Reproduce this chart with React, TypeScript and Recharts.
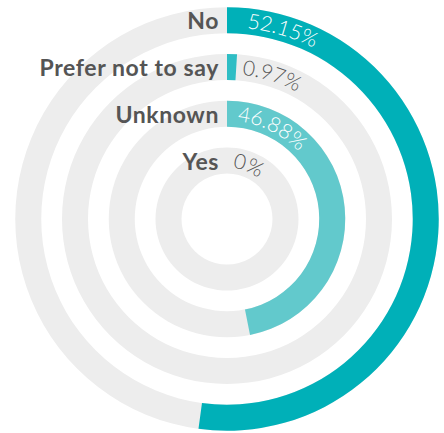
import React from "react"
import {
  Cell,
  LabelList,
  PolarAngleAxis,
  PolarRadiusAxis,
  RadialBar,
  RadialBarChart,
} from "recharts"

// inner ring first
const categories = ["Yes", "Unknown", "Prefer not to say", "No"]
const values = [0, 46.88, 0.97, 52.15]
const colors = ["#62c9cc", "#62c9cc", "#2ebdc4", "#00b0b8"]

const data = categories.map((name, i) => ({ name, value: values[i] }))

const RAD = Math.PI / 180

function ValueLabel(props: any) {
  const { viewBox, value, index } = props
  if (!viewBox) return null
  const { cx, cy, innerRadius, outerRadius } = viewBox
  const r = (innerRadius + outerRadius) / 2 - 7
  const a0 = 6 * RAD
  const a1 = 150 * RAD
  const x0 = cx + r * Math.sin(a0)
  const y0 = cy - r * Math.cos(a0)
  const x1 = cx + r * Math.sin(a1)
  const y1 = cy - r * Math.cos(a1)
  const id = `vl-path-${index}`
  const inside = Number(value) > 10
  return (
    <g>
      <defs>
        <path id={id} d={`M ${x0} ${y0} A ${r} ${r} 0 0 1 ${x1} ${y1}`} />
      </defs>
      <text
        fontFamily="Lato, sans-serif"
        fontWeight={300}
        fontSize={21}
        fill={inside ? "#ffffff" : "#555555"}
      >
        <textPath href={`#${id}`}>{`${value}%`}</textPath>
      </text>
    </g>
  )
}

function NameLabel(props: any) {
  const { viewBox, value } = props
  if (!viewBox) return null
  const { cx, cy, innerRadius, outerRadius } = viewBox
  const r = (innerRadius + outerRadius) / 2
  return (
    <text
      x={cx - 8}
      y={cy - r}
      textAnchor="end"
      dominantBaseline="central"
      fontFamily="Lato, sans-serif"
      fontWeight={700}
      fontSize={23}
      letterSpacing={0.6}
      fill="#555555"
    >
      {value}
    </text>
  )
}

export default function App() {
  return (
    <div style={{ position: "absolute", left: 0, top: 0, background: "#fff" }}>
      <RadialBarChart
        width={444}
        height={433}
        data={data}
        cx={227}
        cy={219}
        innerRadius={35.5}
        outerRadius={222.5}
        startAngle={90}
        endAngle={-270}
        margin={{ top: 0, right: 0, bottom: 0, left: 0 }}
      >
        <PolarAngleAxis
          type="number"
          domain={[0, 100]}
          tick={false}
          axisLine={false}
        />
        <PolarRadiusAxis
          type="category"
          dataKey="name"
          tick={false}
          axisLine={false}
        />
        <RadialBar
          dataKey="value"
          barSize={26}
          background={{ fill: "#ededed" }}
          isAnimationActive={false}
        >
          {data.map((d, i) => (
            <Cell key={d.name} fill={colors[i]} />
          ))}
          <LabelList dataKey="name" content={NameLabel} />
          <LabelList dataKey="value" content={ValueLabel} />
        </RadialBar>
      </RadialBarChart>
    </div>
  )
}
